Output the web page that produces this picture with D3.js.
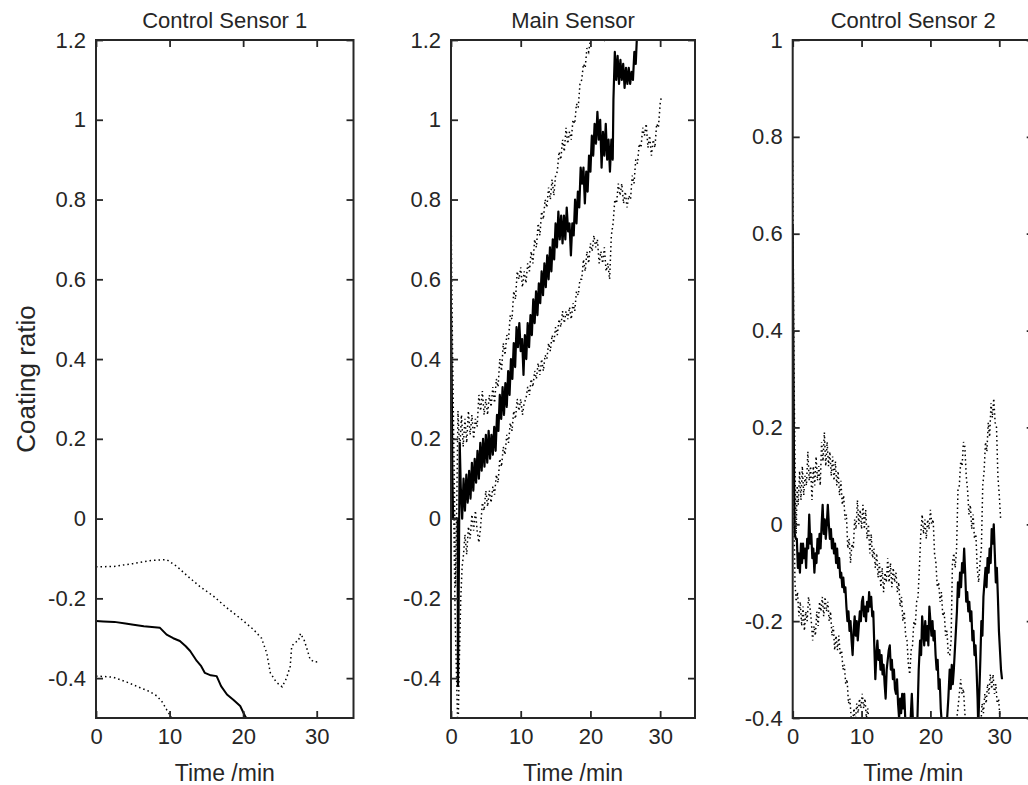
<!DOCTYPE html>
<html>
<head>
<meta charset="utf-8">
<script src="https://cdn.jsdelivr.net/npm/d3@7"></script>
<style>
  body { margin: 0; background: #fff; }
  text { font-family: Arial, "Liberation Sans", sans-serif; fill: #262626; }
</style>
</head>
<body>
<div id="chart"></div>
<script>
// ---- data ----
var xTicks = [0, 10, 20, 30];
var yTicksCtrl1 = [-0.4, -0.2, 0, 0.2, 0.4, 0.6, 0.8, 1, 1.2];
var yTicksMain = [-0.4, -0.2, 0, 0.2, 0.4, 0.6, 0.8, 1, 1.2];
var yTicksCtrl2 = [-0.4, -0.2, 0, 0.2, 0.4, 0.6, 0.8, 1];

// Control Sensor 1: [time, ratio]
var ctrl1Mean = [[0,-0.257],[1,-0.258],[2.5,-0.259],[4,-0.263],[5.1,-0.266],[6.5,-0.27],[8.7,-0.274],[9.6,-0.291],[10.5,-0.3],[11.4,-0.307],[12.2,-0.32],[12.8,-0.332],[13.7,-0.357],[14.3,-0.37],[14.8,-0.387],[15.6,-0.393],[16.4,-0.395],[17,-0.42],[17.8,-0.441],[18.7,-0.455],[19.6,-0.47],[20.3,-0.497],[21,-0.51],[22,-0.53]];
var ctrl1Upper = [[0,-0.121],[2.4,-0.12],[5,-0.113],[7.5,-0.105],[9.6,-0.103],[11,-0.12],[12.5,-0.145],[14.1,-0.17],[16,-0.195],[17.8,-0.224],[19.6,-0.25],[21.4,-0.278],[22.5,-0.3],[23.2,-0.337],[23.7,-0.387],[24.5,-0.41],[25.3,-0.422],[25.9,-0.4],[26.4,-0.37],[26.6,-0.32],[27.1,-0.31],[27.5,-0.307],[27.8,-0.288],[28.3,-0.305],[28.7,-0.328],[29.1,-0.353],[29.7,-0.36],[30.4,-0.358]];
var ctrl1Lower = [[0,-0.395],[1.2,-0.396],[2.4,-0.398],[4.2,-0.41],[6,-0.424],[7.2,-0.433],[8.3,-0.445],[9,-0.46],[9.6,-0.479],[10.2,-0.497],[11,-0.52]];

// Main Sensor
var mainMean = [[0,0.52],[0.1,0.35],[0.2,0.1],[0.3,0],[0.6,0],[0.95,0],[1,-0.42],[1.1,-0.2],[1.25,0.19],[1.4,0.08],[1.6,0],[1.8,0.1],[2,0.02],[2.2,0.11],[2.4,0.04],[2.6,0.12],[2.8,0.05],[3,0.14],[3.2,0.07],[3.4,0.15],[3.6,0.09],[3.8,0.17],[4,0.1],[4.2,0.19],[4.4,0.12],[4.6,0.2],[4.8,0.13],[5,0.21],[5.2,0.14],[5.4,0.22],[5.6,0.15],[5.8,0.21],[6,0.16],[6.2,0.23],[6.4,0.17],[6.6,0.26],[6.8,0.22],[7,0.31],[7.2,0.25],[7.4,0.33],[7.6,0.26],[7.8,0.34],[8,0.28],[8.2,0.37],[8.4,0.31],[8.6,0.4],[8.8,0.35],[9,0.44],[9.2,0.38],[9.4,0.48],[9.6,0.43],[9.8,0.49],[10,0.42],[10.2,0.45],[10.4,0.36],[10.6,0.46],[10.8,0.4],[11,0.49],[11.2,0.43],[11.4,0.51],[11.6,0.46],[11.8,0.55],[12,0.49],[12.2,0.57],[12.4,0.51],[12.6,0.59],[12.8,0.54],[13,0.62],[13.2,0.56],[13.4,0.64],[13.6,0.58],[13.8,0.66],[14,0.6],[14.2,0.68],[14.4,0.62],[14.6,0.7],[14.8,0.65],[15,0.74],[15.2,0.68],[15.4,0.77],[15.6,0.7],[15.8,0.76],[16,0.69],[16.2,0.76],[16.4,0.7],[16.6,0.78],[16.8,0.72],[17,0.74],[17.2,0.66],[17.4,0.74],[17.6,0.71],[17.8,0.8],[18,0.74],[18.2,0.82],[18.4,0.78],[18.6,0.88],[18.8,0.84],[19,0.88],[19.2,0.79],[19.4,0.87],[19.6,0.82],[19.8,0.91],[20,0.87],[20.2,0.96],[20.4,0.91],[20.6,0.99],[20.8,0.94],[21,1.02],[21.2,0.95],[21.4,1],[21.6,0.88],[21.8,0.97],[22,0.91],[22.2,0.99],[22.4,0.9],[22.6,0.95],[22.8,0.87],[23,0.95],[23.2,0.9],[23.3,1.05],[23.5,1.17],[23.7,1.1],[23.9,1.16],[24.1,1.09],[24.3,1.15],[24.5,1.1],[24.7,1.14],[24.9,1.08],[25.1,1.13],[25.3,1.09],[25.5,1.13],[25.7,1.09],[25.9,1.12],[26.1,1.1],[26.3,1.17],[26.5,1.14],[26.7,1.22],[26.9,1.26]];
var mainUpper = [[0,0.8],[0.1,0.6],[0.2,0.45],[0.35,0.25],[0.5,0.05],[0.65,-0.17],[0.8,0],[1,0.27],[1.25,0.17],[1.5,0.26],[1.75,0.18],[2,0.25],[2.25,0.19],[2.5,0.27],[2.75,0.21],[3,0.26],[3.25,0.2],[3.5,0.25],[3.75,0.23],[4,0.31],[4.25,0.27],[4.5,0.32],[4.75,0.26],[5,0.3],[5.25,0.26],[5.5,0.31],[5.75,0.28],[6,0.33],[6.25,0.29],[6.5,0.35],[6.75,0.33],[7,0.4],[7.25,0.37],[7.5,0.44],[7.75,0.41],[8,0.46],[8.25,0.45],[8.5,0.51],[8.75,0.5],[9,0.57],[9.25,0.55],[9.5,0.62],[9.75,0.6],[10,0.63],[10.25,0.58],[10.5,0.62],[10.75,0.59],[11,0.64],[11.25,0.62],[11.5,0.67],[11.75,0.64],[12,0.7],[12.25,0.68],[12.5,0.74],[12.75,0.71],[13,0.77],[13.25,0.75],[13.5,0.8],[13.75,0.78],[14,0.83],[14.25,0.8],[14.5,0.85],[14.75,0.81],[15,0.86],[15.25,0.87],[15.5,0.92],[15.75,0.9],[16,0.95],[16.25,0.92],[16.5,0.98],[16.75,0.94],[17,0.97],[17.25,0.95],[17.5,1],[17.75,0.99],[18,1.04],[18.25,1.03],[18.5,1.09],[18.75,1.1],[19,1.14],[19.25,1.13],[19.5,1.18],[19.75,1.17],[20,1.2],[20.3,1.21],[20.6,1.22],[21,1.2],[21.5,1.21],[22,1.2],[22.3,1.23],[22.6,1.26]];
var mainLower = [[0,0.27],[0.2,0.12],[0.4,0],[0.6,-0.25],[0.8,-0.4],[1,-0.55],[1.2,-0.35],[1.4,-0.2],[1.6,-0.12],[1.8,-0.09],[2,-0.04],[2.25,-0.09],[2.5,-0.02],[2.75,-0.05],[3,0.01],[3.25,-0.03],[3.5,0.02],[3.75,-0.03],[4,-0.06],[4.25,-0.02],[4.5,0.04],[4.75,0.02],[5,0.07],[5.25,0.03],[5.5,0.07],[5.75,0.04],[6,0.08],[6.25,0.06],[6.5,0.11],[6.75,0.09],[7,0.15],[7.25,0.13],[7.5,0.18],[7.75,0.16],[8,0.21],[8.25,0.19],[8.5,0.24],[8.75,0.22],[9,0.27],[9.25,0.25],[9.5,0.3],[9.75,0.27],[10,0.3],[10.25,0.26],[10.5,0.29],[10.75,0.3],[11,0.33],[11.25,0.31],[11.5,0.35],[11.75,0.33],[12,0.37],[12.25,0.35],[12.5,0.39],[12.75,0.36],[13,0.4],[13.25,0.37],[13.5,0.41],[13.75,0.4],[14,0.44],[14.25,0.42],[14.5,0.46],[14.75,0.44],[15,0.48],[15.25,0.46],[15.5,0.5],[15.75,0.48],[16,0.52],[16.25,0.49],[16.5,0.52],[16.75,0.5],[17,0.53],[17.25,0.5],[17.5,0.54],[17.75,0.52],[18,0.57],[18.25,0.56],[18.5,0.6],[18.75,0.6],[19,0.65],[19.25,0.62],[19.5,0.67],[19.75,0.64],[20,0.69],[20.25,0.67],[20.5,0.71],[20.75,0.68],[21,0.7],[21.25,0.64],[21.5,0.67],[21.75,0.64],[22,0.68],[22.25,0.62],[22.5,0.64],[22.75,0.6],[23,0.71],[23.25,0.74],[23.5,0.8],[23.75,0.79],[24,0.84],[24.25,0.81],[24.5,0.84],[24.75,0.79],[25,0.82],[25.25,0.78],[25.5,0.81],[25.75,0.8],[26,0.86],[26.25,0.84],[26.5,0.9],[26.75,0.89],[27,0.94],[27.25,0.93],[27.5,0.98],[27.75,0.96],[28,0.99],[28.25,0.93],[28.5,0.96],[28.75,0.91],[29,0.95],[29.25,0.93],[29.5,0.99],[29.75,0.98],[30,1.04],[30.2,1.06]];

// Control Sensor 2
var ctrl2Mean = [[0,0.62],[0.1,0.35],[0.2,0.1],[0.3,-0.02],[0.45,-0.03],[0.6,-0.03],[0.75,-0.09],[0.9,-0.06],[1.05,-0.1],[1.2,-0.04],[1.35,-0.08],[1.5,-0.04],[1.65,-0.07],[1.8,-0.05],[1.95,-0.09],[2.1,-0.03],[2.25,-0.05],[2.4,0.02],[2.55,-0.04],[2.7,-0.02],[2.85,-0.07],[3,-0.05],[3.15,-0.1],[3.3,-0.06],[3.45,-0.08],[3.6,-0.03],[3.75,-0.06],[3.9,-0.02],[4.05,-0.05],[4.2,0],[4.35,0.04],[4.5,-0.02],[4.65,0.01],[4.8,-0.03],[4.95,0],[5.1,0.04],[5.25,0],[5.4,-0.03],[5.55,-0.01],[5.7,-0.05],[5.85,-0.03],[6,-0.06],[6.15,-0.04],[6.3,-0.08],[6.45,-0.05],[6.6,-0.09],[6.75,-0.07],[6.9,-0.11],[7.05,-0.1],[7.2,-0.13],[7.35,-0.11],[7.5,-0.14],[7.65,-0.13],[7.8,-0.17],[7.95,-0.2],[8.1,-0.18],[8.25,-0.22],[8.4,-0.2],[8.55,-0.24],[8.7,-0.27],[8.85,-0.22],[9,-0.19],[9.15,-0.23],[9.3,-0.2],[9.45,-0.24],[9.6,-0.21],[9.75,-0.18],[9.9,-0.2],[10.05,-0.16],[10.2,-0.15],[10.35,-0.19],[10.5,-0.17],[10.65,-0.2],[10.8,-0.16],[10.95,-0.18],[11.1,-0.14],[11.25,-0.17],[11.4,-0.15],[11.55,-0.19],[11.7,-0.18],[11.85,-0.25],[12,-0.32],[12.15,-0.27],[12.3,-0.24],[12.45,-0.28],[12.6,-0.26],[12.75,-0.3],[12.9,-0.27],[13.05,-0.31],[13.2,-0.29],[13.35,-0.33],[13.5,-0.36],[13.65,-0.3],[13.8,-0.28],[13.95,-0.26],[14.1,-0.25],[14.25,-0.3],[14.4,-0.28],[14.55,-0.32],[14.7,-0.3],[14.85,-0.34],[15,-0.35],[15.15,-0.32],[15.3,-0.37],[15.45,-0.4],[15.6,-0.36],[15.75,-0.39],[15.9,-0.35],[16.05,-0.38],[16.2,-0.35],[16.4,-0.42],[16.7,-0.46],[17,-0.44],[17.3,-0.35],[17.5,-0.42],[17.8,-0.45],[18.1,-0.41],[18.3,-0.3],[18.5,-0.24],[18.65,-0.27],[18.8,-0.19],[18.95,-0.22],[19.1,-0.25],[19.25,-0.2],[19.4,-0.24],[19.55,-0.21],[19.7,-0.25],[19.85,-0.17],[20,-0.2],[20.15,-0.23],[20.3,-0.2],[20.45,-0.24],[20.6,-0.22],[20.75,-0.27],[20.9,-0.3],[21.05,-0.28],[21.2,-0.34],[21.35,-0.32],[21.5,-0.38],[21.7,-0.42],[22,-0.45],[22.3,-0.43],[22.6,-0.36],[22.8,-0.3],[22.95,-0.34],[23.1,-0.29],[23.25,-0.33],[23.4,-0.3],[23.55,-0.26],[23.7,-0.22],[23.85,-0.18],[24,-0.12],[24.15,-0.15],[24.3,-0.1],[24.45,-0.13],[24.6,-0.08],[24.75,-0.1],[24.9,-0.05],[25.05,-0.1],[25.2,-0.16],[25.35,-0.14],[25.5,-0.18],[25.65,-0.16],[25.8,-0.2],[25.95,-0.18],[26.1,-0.24],[26.25,-0.22],[26.4,-0.27],[26.55,-0.25],[26.7,-0.3],[26.85,-0.36],[26.95,-0.42],[27.1,-0.35],[27.25,-0.28],[27.4,-0.2],[27.55,-0.23],[27.7,-0.15],[27.85,-0.12],[28,-0.09],[28.15,-0.13],[28.3,-0.07],[28.45,-0.1],[28.6,-0.05],[28.75,-0.08],[28.9,-0.01],[29.05,-0.04],[29.2,0],[29.35,-0.06],[29.5,-0.12],[29.65,-0.09],[29.8,-0.15],[29.95,-0.22],[30.1,-0.26],[30.25,-0.3],[30.4,-0.32]];
var ctrl2Upper = [[0,0.75],[0.1,0.5],[0.2,0.3],[0.35,0.1],[0.5,-0.02],[0.65,0.08],[0.8,0.04],[1,0.11],[1.2,0.05],[1.4,0.12],[1.6,0.06],[1.8,0.1],[2,0.08],[2.2,0.15],[2.4,0.09],[2.6,0.12],[2.8,0.05],[3,0.12],[3.2,0.08],[3.4,0.14],[3.6,0.09],[3.8,0.12],[4,0.08],[4.2,0.17],[4.4,0.13],[4.6,0.19],[4.8,0.12],[5,0.17],[5.2,0.12],[5.4,0.15],[5.6,0.1],[5.8,0.14],[6,0.09],[6.2,0.13],[6.4,0.08],[6.6,0.11],[6.8,0.06],[7,0.09],[7.2,0.04],[7.4,0.06],[7.6,0.01],[7.8,0.02],[8,-0.05],[8.2,-0.03],[8.4,-0.08],[8.6,-0.04],[8.8,-0.05],[9,0.01],[9.2,-0.01],[9.4,0.05],[9.6,0],[9.8,0.03],[10,-0.01],[10.2,0.04],[10.4,-0.01],[10.6,0.03],[10.8,-0.03],[11,0],[11.2,-0.06],[11.4,-0.02],[11.6,-0.07],[11.8,-0.05],[12,-0.09],[12.2,-0.06],[12.4,-0.11],[12.6,-0.08],[12.8,-0.13],[13,-0.09],[13.2,-0.14],[13.4,-0.1],[13.6,-0.12],[13.8,-0.07],[14,-0.12],[14.2,-0.08],[14.4,-0.13],[14.6,-0.09],[14.8,-0.12],[15,-0.1],[15.2,-0.14],[15.4,-0.12],[15.6,-0.17],[15.8,-0.15],[16,-0.2],[16.2,-0.18],[16.4,-0.23],[16.6,-0.24],[16.8,-0.29],[17,-0.31],[17.2,-0.26],[17.4,-0.25],[17.6,-0.2],[17.8,-0.21],[18,-0.16],[18.2,-0.15],[18.4,-0.09],[18.6,-0.02],[18.8,0.02],[19,-0.02],[19.2,0.01],[19.4,-0.03],[19.6,0.01],[19.8,-0.01],[20,0.03],[20.2,0],[20.4,0.01],[20.6,-0.06],[20.8,-0.08],[21,-0.13],[21.2,-0.12],[21.4,-0.16],[21.6,-0.14],[21.8,-0.19],[22,-0.18],[22.2,-0.23],[22.4,-0.22],[22.6,-0.27],[22.8,-0.27],[23,-0.24],[23.2,-0.08],[23.4,-0.06],[23.6,-0.09],[23.8,-0.05],[24,0.07],[24.2,0.08],[24.4,0.13],[24.6,0.12],[24.8,0.17],[25,0.16],[25.2,0.1],[25.4,0.07],[25.6,0.02],[25.8,0.04],[26,-0.01],[26.2,0.02],[26.4,-0.03],[26.6,-0.02],[26.8,-0.09],[27,-0.12],[27.2,-0.08],[27.4,-0.05],[27.6,0.08],[27.8,0.11],[28,0.17],[28.2,0.15],[28.4,0.21],[28.6,0.18],[28.8,0.25],[29,0.22],[29.2,0.26],[29.4,0.21],[29.6,0.2],[29.8,0.1],[30,0.06],[30.2,0.01]];
var ctrl2Lower = [[0,0.45],[0.1,0.2],[0.2,0],[0.33,-0.12],[0.5,-0.16],[0.7,-0.14],[0.9,-0.19],[1.1,-0.16],[1.3,-0.21],[1.5,-0.17],[1.7,-0.22],[1.9,-0.18],[2.1,-0.2],[2.3,-0.15],[2.5,-0.17],[2.7,-0.2],[2.9,-0.24],[3.1,-0.21],[3.3,-0.23],[3.5,-0.18],[3.7,-0.21],[3.9,-0.16],[4.1,-0.18],[4.3,-0.15],[4.5,-0.19],[4.7,-0.15],[4.9,-0.18],[5.1,-0.16],[5.3,-0.2],[5.5,-0.18],[5.7,-0.23],[5.9,-0.21],[6.1,-0.26],[6.3,-0.23],[6.5,-0.26],[6.7,-0.23],[6.9,-0.27],[7.1,-0.26],[7.3,-0.3],[7.5,-0.29],[7.7,-0.33],[7.9,-0.32],[8.1,-0.37],[8.3,-0.36],[8.5,-0.4],[8.7,-0.41],[8.9,-0.38],[9.1,-0.41],[9.3,-0.37],[9.5,-0.39],[9.7,-0.36],[9.9,-0.38],[10.1,-0.35],[10.3,-0.38],[10.5,-0.36],[10.7,-0.4],[10.9,-0.38],[11.1,-0.41],[11.4,-0.42],[11.8,-0.44],[12.5,-0.47],[13.5,-0.5],[15,-0.52],[16.5,-0.5],[18,-0.47],[19.5,-0.49],[21,-0.5],[22.5,-0.47],[23.5,-0.44],[24,-0.38],[24.2,-0.35],[24.4,-0.32],[24.6,-0.35],[24.8,-0.34],[25,-0.39],[25.2,-0.42],[25.6,-0.46],[26.2,-0.48],[26.8,-0.46],[27.3,-0.42],[27.5,-0.37],[27.7,-0.39],[27.9,-0.35],[28.1,-0.37],[28.3,-0.33],[28.5,-0.35],[28.7,-0.31],[28.9,-0.34],[29.1,-0.31],[29.3,-0.35],[29.5,-0.33],[29.7,-0.37],[29.9,-0.36],[30.1,-0.4],[30.2,-0.41]];

// ---- layout ----
var W = 1028, H = 785, plotTop = 40, plotH = 678;
var panels = [
  { title: 'Control Sensor 1', x0: 96, width: 257.5, yDomain: [-0.5, 1.2], yTicks: yTicksCtrl1, mean: ctrl1Mean, upper: ctrl1Upper, lower: ctrl1Lower },
  { title: 'Main Sensor', x0: 451, width: 244, yDomain: [-0.5, 1.2], yTicks: yTicksMain, mean: mainMean, upper: mainUpper, lower: mainLower },
  { title: 'Control Sensor 2', x0: 792.7, width: 241, yDomain: [-0.4, 1], yTicks: yTicksCtrl2, mean: ctrl2Mean, upper: ctrl2Upper, lower: ctrl2Lower }
];
var ink = '#262626';
var fmt = function (d) { return String(+d.toFixed(1)); };

var svg = d3.select('#chart').append('svg')
  .attr('width', W).attr('height', H);

panels.forEach(function (p, i) {
  var x = d3.scaleLinear().domain([0, 35]).range([0, p.width]);
  var y = d3.scaleLinear().domain(p.yDomain).range([plotH, 0]);

  var g = svg.append('g').attr('transform', 'translate(' + p.x0 + ',' + plotTop + ')');

  g.append('clipPath').attr('id', 'clip' + i)
    .append('rect').attr('width', p.width).attr('height', plotH);

  var line = d3.line().x(function (d) { return x(d[0]); }).y(function (d) { return y(d[1]); });
  var plot = g.append('g').attr('clip-path', 'url(#clip' + i + ')');

  [p.upper, p.lower].forEach(function (s) {
    plot.append('path').datum(s).attr('d', line)
      .attr('fill', 'none').attr('stroke', '#000')
      .attr('stroke-width', 1.5).attr('stroke-dasharray', '1.5 3');
  });
  plot.append('path').datum(p.mean).attr('d', line)
    .attr('fill', 'none').attr('stroke', '#000')
    .attr('stroke-width', i === 0 ? 2 : 2.2).attr('stroke-linejoin', 'round');

  // axes with inward ticks, MATLAB-style box
  g.append('g').attr('transform', 'translate(0,' + plotH + ')')
    .call(d3.axisBottom(x).tickValues(xTicks).tickFormat(fmt).tickSizeInner(-7).tickSizeOuter(0).tickPadding(10));
  g.append('g').call(d3.axisTop(x).tickValues(xTicks).tickFormat('').tickSizeInner(-7).tickSizeOuter(0));
  g.append('g')
    .call(d3.axisLeft(y).tickValues(p.yTicks).tickFormat(fmt).tickSizeInner(-7).tickSizeOuter(0).tickPadding(10));
  g.append('g').attr('transform', 'translate(' + p.width + ',0)')
    .call(d3.axisRight(y).tickValues(p.yTicks).tickFormat('').tickSizeInner(-7).tickSizeOuter(0));

  g.selectAll('.domain').remove();
  g.selectAll('.tick line').attr('stroke', ink).attr('stroke-width', 1.8);
  g.selectAll('.tick text').attr('font-size', 22).attr('fill', ink)
    .style('font-family', 'Arial, "Liberation Sans", sans-serif');

  g.append('rect').attr('width', p.width).attr('height', plotH)
    .attr('fill', 'none').attr('stroke', ink).attr('stroke-width', 2);

  g.append('text').attr('x', p.width / 2).attr('y', -12)
    .attr('text-anchor', 'middle').attr('font-size', 22).text(p.title);

  g.append('text').attr('x', p.width / 2).attr('y', plotH + 63)
    .attr('text-anchor', 'middle').attr('font-size', 23).text('Time /min');

  if (i === 0) {
    g.append('text')
      .attr('transform', 'translate(-61,' + (plotH / 2) + ') rotate(-90)')
      .attr('text-anchor', 'middle').attr('font-size', 26).text('Coating ratio');
  }
});
</script>
</body>
</html>
